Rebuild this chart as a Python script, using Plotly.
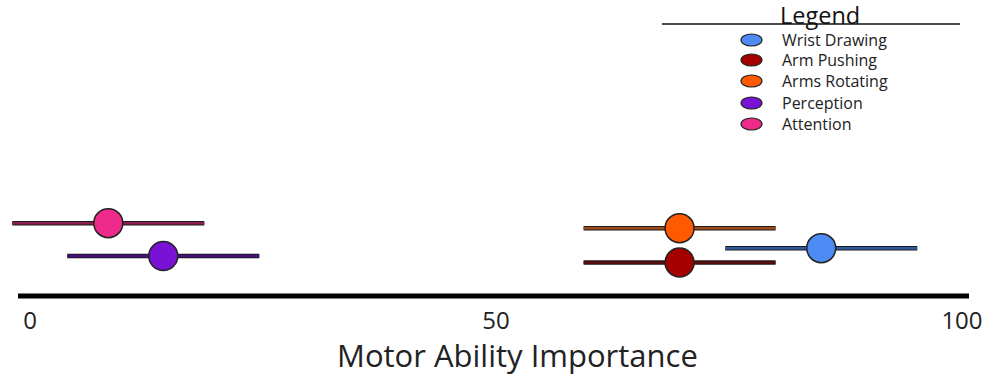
import plotly.graph_objects as go

# ---- data ----
names = ["Wrist Drawing", "Arm Pushing", "Arms Rotating", "Perception", "Attention"]
importance = [84.9, 69.7, 69.7, 14.3, 8.4]
err = [10.3, 10.3, 10.3, 10.3, 10.3]
jitter = [0.156, 0.107, 0.224, 0.129, 0.241]
marker_colors = ["#4D8BF5", "#A50000", "#FF5A00", "#7A12D6", "#EE2A8A"]
bar_colors = ["#2F5C9E", "#5C0A0A", "#A04A1A", "#4A1080", "#8E1C50"]
tick_vals = [0, 50, 100]
tick_text = ["0", "50", "100"]
x_title = "Motor Ability Importance"

FONT = "Open Sans"
W, H = 992, 376
ML, MR, MT, MB = 4, 14, 0, 82

fig = go.Figure()

# error bars (dark outline + colored core)
for n, v, e, y, bc in zip(names, importance, err, jitter, bar_colors):
    fig.add_trace(go.Scatter(x=[v - e, v + e], y=[y, y], mode="lines",
                             line=dict(color="#1a1a1a", width=4.5),
                             hoverinfo="skip", showlegend=False))
    fig.add_trace(go.Scatter(x=[v - e, v + e], y=[y, y], mode="lines",
                             line=dict(color=bc, width=2.5),
                             hoverinfo="skip", showlegend=False))

# points
for n, v, y, mc in zip(names, importance, jitter, marker_colors):
    fig.add_trace(go.Scatter(x=[v], y=[y], mode="markers", name=n,
                             marker=dict(size=29, color=mc,
                                         line=dict(color="#222222", width=1.5)),
                             showlegend=False))

shapes = []
annotations = []
def px_x(px):
    return (px - ML) / (W - ML - MR)
def px_y(py):
    return (H - MB - py) / (H - MT - MB)

# axis baseline
shapes.append(dict(type="line", xref="paper", yref="paper",
                   x0=px_x(18), x1=px_x(969), y0=px_y(296), y1=px_y(296),
                   line=dict(color="black", width=5)))

# custom legend
leg_rows = [40, 60, 81, 103, 124]
for n, mc, ry in zip(names, marker_colors, leg_rows):
    shapes.append(dict(type="circle", xref="paper", yref="paper",
                       x0=px_x(741), x1=px_x(762), y0=px_y(ry + 6), y1=px_y(ry - 6),
                       fillcolor=mc, line=dict(color="#222222", width=1.2)))
    annotations.append(dict(text=n, xref="paper", yref="paper",
                            x=px_x(780), y=px_y(ry), xanchor="left", yanchor="middle",
                            showarrow=False, font=dict(family=FONT, size=16, color="#222222")))

shapes.append(dict(type="line", xref="paper", yref="paper",
                   x0=px_x(662), x1=px_x(960), y0=px_y(24), y1=px_y(24),
                   line=dict(color="#111111", width=1.5)))
annotations.append(dict(text="Legend", xref="paper", yref="paper",
                        x=px_x(820), y=px_y(15), xanchor="center", yanchor="middle",
                        showarrow=False, font=dict(family=FONT, size=23.5, color="#111111")))

# axis title
annotations.append(dict(text=x_title, xref="paper", yref="paper",
                        x=px_x(517), y=px_y(355), xanchor="center", yanchor="middle",
                        showarrow=False, font=dict(family=FONT, size=31, color="#222222")))

fig.update_layout(
    width=W, height=H,
    margin=dict(l=ML, r=MR, t=MT, b=MB),
    paper_bgcolor="white", plot_bgcolor="white",
    showlegend=False,
    shapes=shapes, annotations=annotations,
    xaxis=dict(range=[-2.79, 101.72], tickvals=tick_vals, ticktext=tick_text,
               showgrid=False, zeroline=False, showline=False,
               ticks="", ticklen=0, ticklabelstandoff=10,
               tickfont=dict(family=FONT, size=24, color="#222222")),
    yaxis=dict(range=[0, 1], visible=False, fixedrange=True),
)

fig.write_html("out.html", config={"displayModeBar": False},
               post_script="document.body.style.margin='0';document.body.style.overflow='hidden';")
